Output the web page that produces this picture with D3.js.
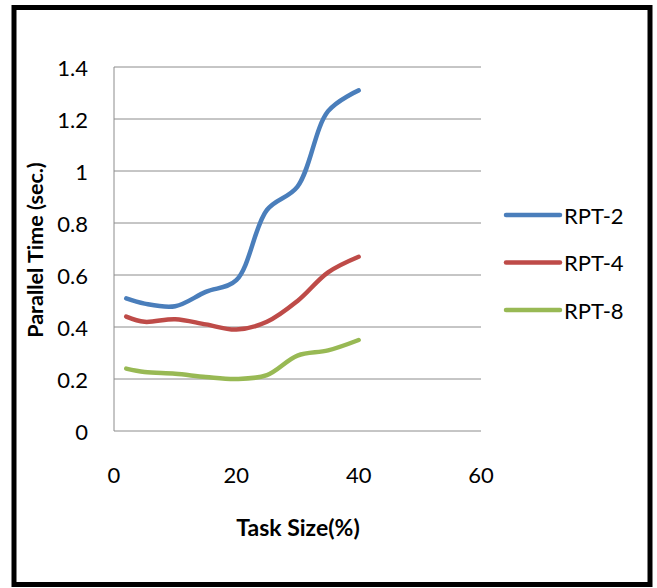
<!DOCTYPE html>
<html>
<head>
<meta charset="utf-8">
<script src="https://cdn.jsdelivr.net/npm/d3@7"></script>
<style>
  body { margin: 0; background: #fff; }
  text { font-family: Lato, "Open Sans", sans-serif; fill: #000; }
</style>
</head>
<body>
<div id="chart"></div>
<script>
// task sizes (%) shared by all series
const taskSize = [2, 5, 10, 15, 20, 25, 30, 35, 40];
const rpt2 = [0.51, 0.49, 0.48, 0.535, 0.58, 0.85, 0.94, 1.23, 1.31];
const rpt4 = [0.44, 0.42, 0.43, 0.41, 0.39, 0.42, 0.50, 0.61, 0.67];
const rpt8 = [0.24, 0.227, 0.22, 0.208, 0.2, 0.215, 0.29, 0.31, 0.35];
const seriesNames = ["RPT-2", "RPT-4", "RPT-8"];
const colors = ["#4a7ebb", "#be4b48", "#98b954"];
const xTicks = [0, 20, 40, 60];
const yTicks = [0, 0.2, 0.4, 0.6, 0.8, 1, 1.2, 1.4];

const width = 657, height = 588;
const plot = { left: 114, right: 481, top: 67, bottom: 431 };

const svg = d3.select("#chart").append("svg")
  .attr("width", width)
  .attr("height", height);

// outer frame
svg.append("rect")
  .attr("x", 14).attr("y", 7.5)
  .attr("width", 636).attr("height", 577)
  .attr("fill", "none")
  .attr("stroke", "#000")
  .attr("stroke-width", 5);

const x = d3.scaleLinear().domain([0, 60]).range([plot.left, plot.right]);
const y = d3.scaleLinear().domain([0, 1.4]).range([plot.bottom, plot.top]);

// horizontal gridlines
svg.append("g")
  .selectAll("line")
  .data(yTicks)
  .join("line")
  .attr("x1", plot.left).attr("x2", plot.right)
  .attr("y1", d => y(d)).attr("y2", d => y(d))
  .attr("stroke", "#8c8c8c")
  .attr("stroke-width", 1);

// y axis line
svg.append("line")
  .attr("x1", plot.left).attr("x2", plot.left)
  .attr("y1", plot.top).attr("y2", plot.bottom)
  .attr("stroke", "#8c8c8c");

// y tick labels
svg.append("g")
  .selectAll("text")
  .data(yTicks)
  .join("text")
  .attr("x", plot.left - 26)
  .attr("y", d => y(d))
  .attr("text-anchor", "end")
  .attr("dominant-baseline", "central")
  .attr("font-size", 22)
  .text(d => d3.format("~g")(d));

// x tick labels
svg.append("g")
  .selectAll("text")
  .data(xTicks)
  .join("text")
  .attr("x", d => x(d))
  .attr("y", 474)
  .attr("text-anchor", "middle")
  .attr("dominant-baseline", "central")
  .attr("font-size", 22)
  .text(d => d);

// axis titles
svg.append("text")
  .attr("x", 298).attr("y", 527)
  .attr("text-anchor", "middle")
  .attr("dominant-baseline", "central")
  .attr("font-size", 23)
  .attr("font-weight", "bold")
  .text("Task Size(%)");

svg.append("text")
  .attr("transform", "translate(35,250) rotate(-90)")
  .attr("text-anchor", "middle")
  .attr("dominant-baseline", "central")
  .attr("font-size", 21.5)
  .attr("font-weight", "bold")
  .text("Parallel Time (sec.)");

// series
const series = [rpt2, rpt4, rpt8].map((vals, i) => ({
  name: seriesNames[i],
  color: colors[i],
  points: taskSize.map((t, j) => [t, vals[j]])
}));

const line = d3.line()
  .x(d => x(d[0]))
  .y(d => y(d[1]))
  .curve(d3.curveCatmullRom.alpha(0.5));

svg.append("g")
  .selectAll("path")
  .data(series)
  .join("path")
  .attr("d", d => line(d.points))
  .attr("fill", "none")
  .attr("stroke", d => d.color)
  .attr("stroke-width", 4.5)
  .attr("stroke-linecap", "round");

// legend
const legend = svg.append("g")
  .selectAll("g")
  .data(series)
  .join("g")
  .attr("transform", (d, i) => `translate(506,${215 + i * 47.5})`);

legend.append("line")
  .attr("x1", 0).attr("x2", 54)
  .attr("stroke", d => d.color)
  .attr("stroke-width", 4.5)
  .attr("stroke-linecap", "round");

legend.append("text")
  .attr("x", 58)
  .attr("dominant-baseline", "central")
  .attr("font-size", 22)
  .text(d => d.name);
</script>
</body>
</html>
